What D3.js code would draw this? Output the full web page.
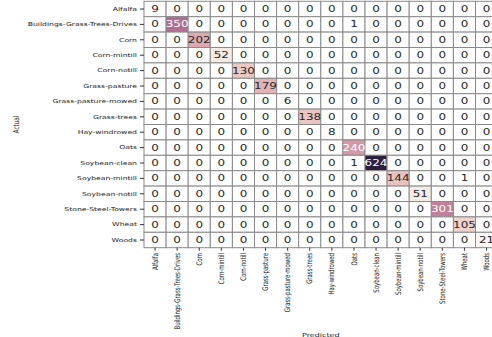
<!DOCTYPE html>
<html>
<head>
<meta charset="utf-8">
<script src="https://cdn.jsdelivr.net/npm/d3@7/dist/d3.min.js"></script>
<style>
  html, body { margin: 0; padding: 0; background: #ffffff; }
  svg { display: block; }
  text { font-family: "DejaVu Sans", sans-serif; }
</style>
</head>
<body>
<svg id="chart" width="492" height="337"></svg>
<script>
// Class names (rows = actual, columns = predicted)
const classes = [
  "Alfalfa", "Buildings-Grass-Trees-Drives", "Corn", "Corn-mintill", "Corn-notill",
  "Grass-pasture", "Grass-pasture-mowed", "Grass-trees", "Hay-windrowed", "Oats",
  "Soybean-clean", "Soybean-mintill", "Soybean-notill", "Stone-Steel-Towers", "Wheat", "Woods"
];

// Confusion-matrix counts, one row per actual class
const counts = [
  [9, 0, 0, 0, 0, 0, 0, 0, 0, 0, 0, 0, 0, 0, 0, 0],
  [0, 350, 0, 0, 0, 0, 0, 0, 0, 1, 0, 0, 0, 0, 0, 0],
  [0, 0, 202, 0, 0, 0, 0, 0, 0, 0, 0, 0, 0, 0, 0, 0],
  [0, 0, 0, 52, 0, 0, 0, 0, 0, 0, 0, 0, 0, 0, 0, 0],
  [0, 0, 0, 0, 130, 0, 0, 0, 0, 0, 0, 0, 0, 0, 0, 0],
  [0, 0, 0, 0, 0, 179, 0, 0, 0, 0, 0, 0, 0, 0, 0, 0],
  [0, 0, 0, 0, 0, 0, 6, 0, 0, 0, 0, 0, 0, 0, 0, 0],
  [0, 0, 0, 0, 0, 0, 0, 138, 0, 0, 0, 0, 0, 0, 0, 0],
  [0, 0, 0, 0, 0, 0, 0, 0, 8, 0, 0, 0, 0, 0, 0, 0],
  [0, 0, 0, 0, 0, 0, 0, 0, 0, 240, 0, 0, 0, 0, 0, 0],
  [0, 0, 0, 0, 0, 0, 0, 0, 0, 1, 624, 0, 0, 0, 0, 0],
  [0, 0, 0, 0, 0, 0, 0, 0, 0, 0, 0, 144, 0, 0, 1, 0],
  [0, 0, 0, 0, 0, 0, 0, 0, 0, 0, 0, 0, 51, 0, 0, 0],
  [0, 0, 0, 0, 0, 0, 0, 0, 0, 0, 0, 0, 0, 301, 0, 0],
  [0, 0, 0, 0, 0, 0, 0, 0, 0, 0, 0, 0, 0, 0, 105, 0],
  [0, 0, 0, 0, 0, 0, 0, 0, 0, 0, 0, 0, 0, 0, 0, 21]
];

const xAxisTitle = "Predicted";
const yAxisTitle = "Actual";

// ---- layout ----
const sy = 0.7;                 // vertical compression applied to all text
const gridLeft = 144, gridTop = 1.3;
const cellW = 22.1, cellH = 15.4;
const n = classes.length;

const x = d3.scaleBand().domain(classes).range([gridLeft, gridLeft + n * cellW]).padding(0);
const y = d3.scaleBand().domain(classes).range([gridTop, gridTop + n * cellH]).padding(0);

// ---- colour map: cubehelix (start 0, rot .4, hue .8, gamma 1), light 1 -> dark .15 ----
function cubehelixChannel(p0, p1) {
  return t => {
    const a = 0.8 * t * (1 - t) / 2;
    const phi = 2 * Math.PI * (0 / 3 + 0.4 * t);
    return Math.min(1, Math.max(0, t + a * (p0 * Math.cos(phi) + p1 * Math.sin(phi))));
  };
}
const chR = cubehelixChannel(-0.14861, 1.78277);
const chG = cubehelixChannel(-0.29227, -0.90649);
const chB = cubehelixChannel(1.97294, 0);
const light = 1.0, dark = 0.15;
const vmin = 0, vmax = d3.max(counts.flat());
const norm = d3.scaleLinear().domain([vmin, vmax]).range([0, 1]).clamp(true);

function cellRGB(v) {
  const idx = Math.min(255, Math.floor(norm(v) * 256));
  const t = light + (dark - light) * idx / 255;
  return [chR(t), chG(t), chB(t)];
}
function toCss(c) { return d3.rgb(c[0] * 255, c[1] * 255, c[2] * 255).formatHex(); }
function luminance(c) {
  const lin = c.map(v => v <= 0.03928 ? v / 12.92 : Math.pow((v + 0.055) / 1.055, 2.4));
  return 0.2126 * lin[0] + 0.7152 * lin[1] + 0.0722 * lin[2];
}

const svg = d3.select("#chart");

const cells = [];
counts.forEach((row, i) => row.forEach((v, j) => cells.push({ r: classes[i], c: classes[j], v })));

// ---- cells ----
svg.append("g")
  .selectAll("rect")
  .data(cells)
  .join("rect")
  .attr("x", d => x(d.c))
  .attr("y", d => y(d.r))
  .attr("width", x.bandwidth())
  .attr("height", y.bandwidth())
  .attr("fill", d => toCss(cellRGB(d.v)))
  .attr("stroke", "#8a8a8a")
  .attr("stroke-width", 1);

// ---- annotations ----
svg.append("g")
  .selectAll("text")
  .data(cells)
  .join("text")
  .attr("transform", d => `translate(${x(d.c) + x.bandwidth() / 2},${y(d.r) + y.bandwidth() / 2}) scale(1,${sy})`)
  .attr("text-anchor", "middle")
  .attr("dy", "0.36em")
  .attr("font-size", 12)
  .attr("fill", d => luminance(cellRGB(d.v)) > 0.408 ? "#262626" : "#ffffff")
  .text(d => d.v);

// ---- y axis ----
const yAxis = svg.append("g")
  .attr("transform", `translate(${gridLeft},0)`)
  .call(d3.axisLeft(y).tickSize(4).tickSizeOuter(0));
yAxis.select(".domain").remove();
yAxis.selectAll(".tick line").attr("stroke", "#333");
yAxis.selectAll(".tick text")
  .attr("x", null)
  .attr("transform", `scale(1,${sy}) translate(-7,0)`)
  .attr("dy", "0.34em")
  .attr("text-anchor", "end")
  .attr("font-size", 7.7)
  .attr("font-family", "DejaVu Sans, sans-serif")
  .attr("fill", "#222");

// ---- x axis ----
const gridBottom = gridTop + n * cellH;
const xAxis = svg.append("g")
  .attr("transform", `translate(0,${gridBottom})`)
  .call(d3.axisBottom(x).tickSize(3).tickSizeOuter(0));
xAxis.select(".domain").remove();
xAxis.selectAll(".tick line").attr("stroke", "#333");
xAxis.selectAll(".tick text")
  .attr("transform", `scale(1,${sy}) rotate(-90)`)
  .attr("x", -7.6)
  .attr("y", 0)
  .attr("dy", "0.34em")
  .attr("text-anchor", "end")
  .attr("font-size", 7.7)
  .attr("font-family", "DejaVu Sans, sans-serif")
  .attr("fill", "#222");

// ---- axis titles ----
svg.append("text")
  .attr("transform", `translate(${gridLeft + n * cellW / 2},337.4) scale(1,${sy})`)
  .attr("text-anchor", "middle")
  .attr("font-size", 8)
  .attr("fill", "#222")
  .text(xAxisTitle);

svg.append("text")
  .attr("transform", `translate(18.5,${(gridTop + gridBottom) / 2}) scale(1,${sy}) rotate(-90)`)
  .attr("text-anchor", "middle")
  .attr("font-size", 8)
  .attr("fill", "#222")
  .text(yAxisTitle);
</script>
</body>
</html>
